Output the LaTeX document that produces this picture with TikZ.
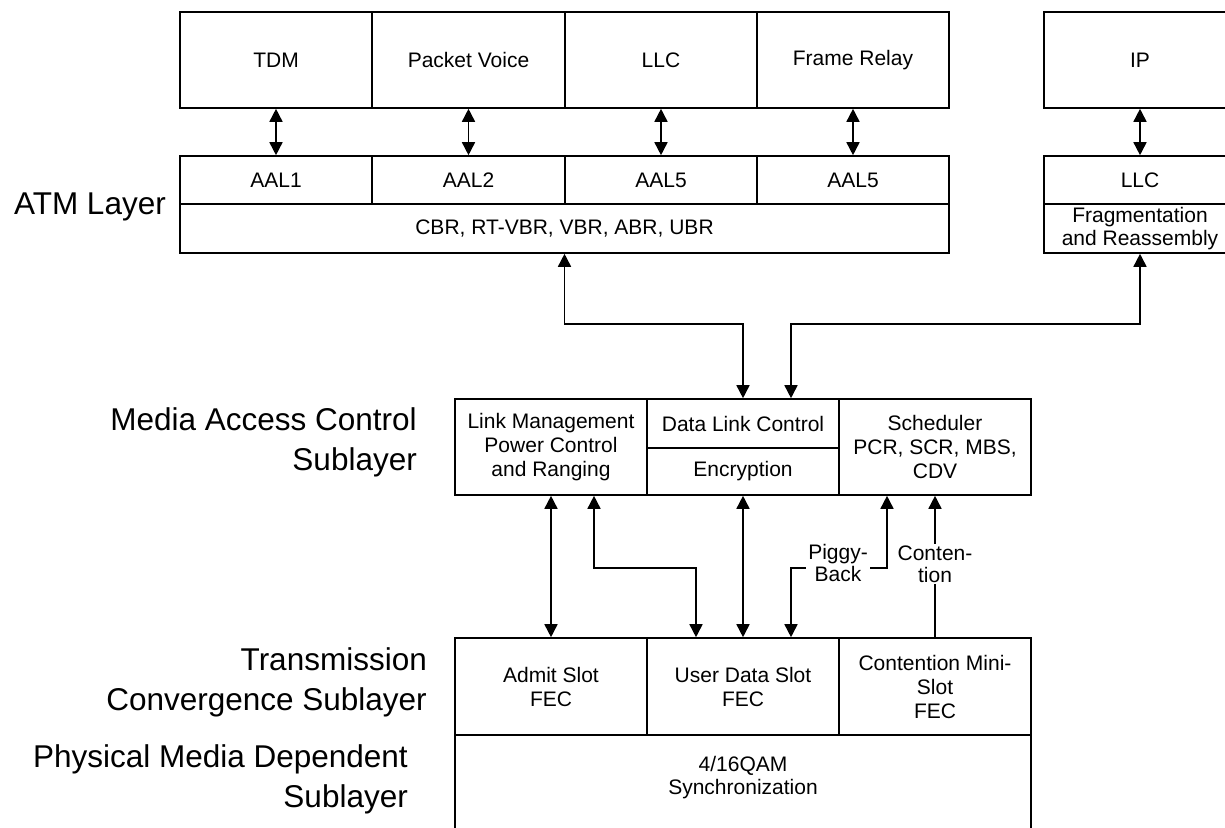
\documentclass[tikz,border=0pt]{standalone}
\usepackage{fontspec}
\setmainfont{Liberation Sans}
\usetikzlibrary{arrows.meta}
\newcommand\boxfont{\fontsize{21}{24}\selectfont}
\newcommand\layerfont{\fontsize{31.5}{40}\selectfont}
\begin{document}
\begin{tikzpicture}[x=1pt,y=-1pt,
  blk/.style={draw, line width=1.6pt, inner sep=0pt, align=center, font=\boxfont},
  conn/.style={line width=1.6pt},
  dbl/.style={conn, {Triangle[length=13pt,width=13pt]}-{Triangle[length=13pt,width=13pt]}},
  one/.style={conn, -{Triangle[length=13pt,width=13pt]}},
  lyr/.style={inner sep=0pt, font=\layerfont, align=right},
  lbl/.style={fill=white, inner sep=2pt, align=center, font=\fontsize{21}{22}\selectfont}]
\fill[white] (0,0) rectangle (1225,827);
\useasboundingbox (0,0) rectangle (1225,827);
\clip (0,0) rectangle (1225,827);

% top row
\node[blk, minimum width=192pt, minimum height=96pt] (tdm) at (276,60) {TDM};
\node[blk, minimum width=193pt, minimum height=96pt] (pv) at (468.5,60) {Packet Voice};
\node[blk, minimum width=192pt, minimum height=96pt] (llc) at (661,60) {LLC};
\node[blk, minimum width=192pt, minimum height=96pt] (fr) at (853,60) {Frame Relay};
\node[blk, minimum width=192pt, minimum height=96pt] (ip) at (1140,60) {IP};

% AAL row
\node[blk, minimum width=192pt, minimum height=48pt] (aal1) at (276,180) {AAL1};
\node[blk, minimum width=193pt, minimum height=48pt] (aal2) at (468.5,180) {AAL2};
\node[blk, minimum width=192pt, minimum height=48pt] (aal5a) at (661,180) {AAL5};
\node[blk, minimum width=192pt, minimum height=48pt] (aal5b) at (853,180) {AAL5};
\node[blk, minimum width=192pt, minimum height=48pt] (llc2) at (1140,180) {LLC};

\node[blk, minimum width=769pt, minimum height=49pt] (cbr) at (564.5,228.5) {CBR, RT-VBR, VBR, ABR, UBR};
\node[blk, minimum width=192pt, minimum height=49pt, font=\fontsize{21}{23}\selectfont] (frag) at (1140,228.5) {Fragmentation\\and Reassembly};

% MAC
\node[blk, minimum width=192pt, minimum height=96pt] (lm) at (551,447) {Link Management\\Power Control\\and Ranging};
\node[blk, minimum width=192pt, minimum height=49pt] (dlc) at (743,423.5) {Data Link Control};
\node[blk, minimum width=192pt, minimum height=47pt] (enc) at (743,471.5) {Encryption};
\node[blk, minimum width=192pt, minimum height=96pt] (sched) at (935,447) {Scheduler\\PCR, SCR, MBS,\\CDV};

% TC
\node[blk, minimum width=192pt, minimum height=97pt] (admit) at (551,686.5) {Admit Slot\\FEC};
\node[blk, minimum width=192pt, minimum height=97pt] (uds) at (743,686.5) {User Data Slot\\FEC};
\node[blk, minimum width=192pt, minimum height=97pt] (cms) at (935,686.5) {Contention Mini-\\Slot\\FEC};

% PMD
\node[blk, minimum width=576pt, minimum height=120pt] (pmd) at (743,795) {};
\node[inner sep=0pt, align=center, font=\fontsize{21}{23}\selectfont] (pmdtxt) at (743,778) {4/16QAM\\Synchronization};

% top arrows
\draw[dbl] (tdm.south) -- (aal1.north);
\draw[dbl] (pv.south) -- (aal2.north);
\draw[dbl] (llc.south) -- (aal5a.north);
\draw[dbl] (fr.south) -- (aal5b.north);
\draw[dbl] (ip.south) -- (llc2.north);

% ATM to MAC
\draw[dbl] (cbr.south) -- ++(0,70) -| (dlc.north);
\draw[dbl] (frag.south) -- ++(0,70) -| ([xshift=48pt]dlc.north);

% MAC to TC
\draw[dbl] (lm.south) -- (admit.north);
\draw[dbl] ([xshift=43pt]lm.south) -- ++(0,72) -| ([xshift=-47pt]uds.north);
\draw[dbl] (enc.south) -- (uds.north);
\draw[dbl] ([xshift=-48pt]sched.south) -- ++(0,72) -| ([xshift=48pt]uds.north);
\node[lbl] (pb) at (838,563) {Piggy-\\Back};
\draw[one] (cms.north) -- (sched.south);
\node[lbl] (ct) at (935,564) {Conten-\\tion};

% layer labels
\node[lyr, anchor=base east] (atm) at (166,214) {ATM Layer};
\node[lyr, anchor=north east] (mac) at (417,407) {Media Access Control\\Sublayer};
\node[lyr, anchor=north east] (tc) at (427,647) {Transmission\\Convergence Sublayer};
\node[lyr, anchor=north east] (pmdl) at (408,744) {Physical Media Dependent\\Sublayer};
\end{tikzpicture}
\end{document}
